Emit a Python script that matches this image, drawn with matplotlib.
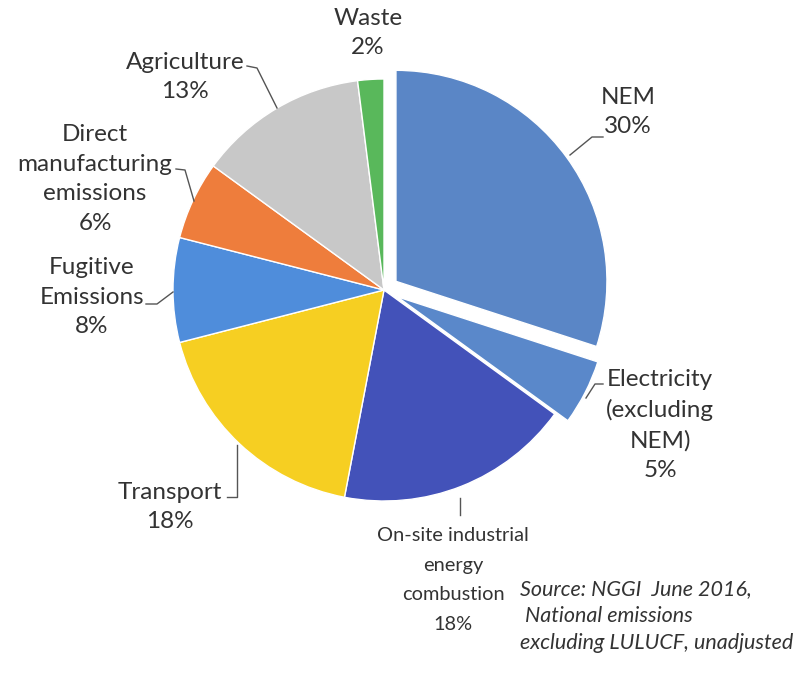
import matplotlib.pyplot as plt

# shares of national emissions (%), clockwise from 12 o'clock
sectors = ["NEM", "Electricity (excluding NEM)", "On-site industrial energy combustion",
           "Transport", "Fugitive Emissions", "Direct manufacturing emissions",
           "Agriculture", "Waste"]
shares = [30, 5, 18, 18, 8, 6, 13, 2]
colors = ["#5a86c6", "#5a88ca", "#4352b9", "#f6cf22", "#4f8ddb", "#ee7d3c", "#c8c8c8", "#59b85b"]
explode = [0.07, 0.07, 0, 0, 0, 0, 0, 0]

# label text as printed on the chart
label_text = ["NEM\n30%", "Electricity\n(excluding\nNEM)\n5%",
              "On-site industrial\nenergy\ncombustion\n18%", "Transport\n18%",
              "Fugitive\nEmissions\n8%", "Direct\nmanufacturing\nemissions\n6%",
              "Agriculture\n13%", "Waste\n2%"]
source_note = "Source: NGGI  June 2016,\n National emissions\nexcluding LULUCF, unadjusted"

W, H = 796, 683
CX, CY, R = 384, 290, 211   # pie centre and radius in pixels


def px(x, y):
    # pixel (from top-left) -> data coords (pie radius = 1)
    return (x - CX) / R, (CY - y) / R


plt.rcParams['font.family'] = ['Lato', 'DejaVu Sans']
fig = plt.figure(figsize=(W / 100, H / 100), dpi=100)
ax = fig.add_axes([0, 0, 1, 1])

ax.pie(shares, colors=colors, explode=explode, startangle=90, counterclock=False,
       radius=1, center=(0, 0), wedgeprops=dict(edgecolor="white", linewidth=1))

ax.set_xlim(-CX / R, (W - CX) / R)
ax.set_ylim((CY - H) / R, CY / R)
ax.set_aspect('auto')
ax.axis('off')

txt = "#333333"
# (centre x, centre y) for each label block in pixels
label_pos = [(628, 112), (660, 425), (453, 580), (170, 507),
             (92, 297), (95, 179), (185, 77), (368, 33)]
for t, (x, y) in zip(label_text, label_pos):
    if t.startswith("On-site"):
        ax.text(*px(x, y), t, ha="center", va="center", fontsize=14.4, color=txt,
                linespacing=1.9)
    else:
        ax.text(*px(x, y), t, ha="center", va="center", fontsize=17.5, color=txt,
                linespacing=1.52)

ax.text(*px(520, 616), source_note, ha="left", va="center", fontsize=15.5, color=txt,
        style="italic", linespacing=1.42)

# leader lines
leaders = [
    [(570, 155), (592, 137), (603, 137)],
    [(586, 398), (595, 384), (603, 384)],
    [(460, 498), (460, 515)],
    [(227, 497), (237, 497), (237, 445)],
    [(146, 304), (157, 304), (173, 292)],
    [(176, 169), (185, 170), (194, 201)],
    [(247, 66), (257, 68), (277, 108)],
]
for pts in leaders:
    xs, ys = zip(*[px(x, y) for x, y in pts])
    ax.plot(xs, ys, color="#555555", linewidth=1)

fig.savefig("out.png", dpi=100)
